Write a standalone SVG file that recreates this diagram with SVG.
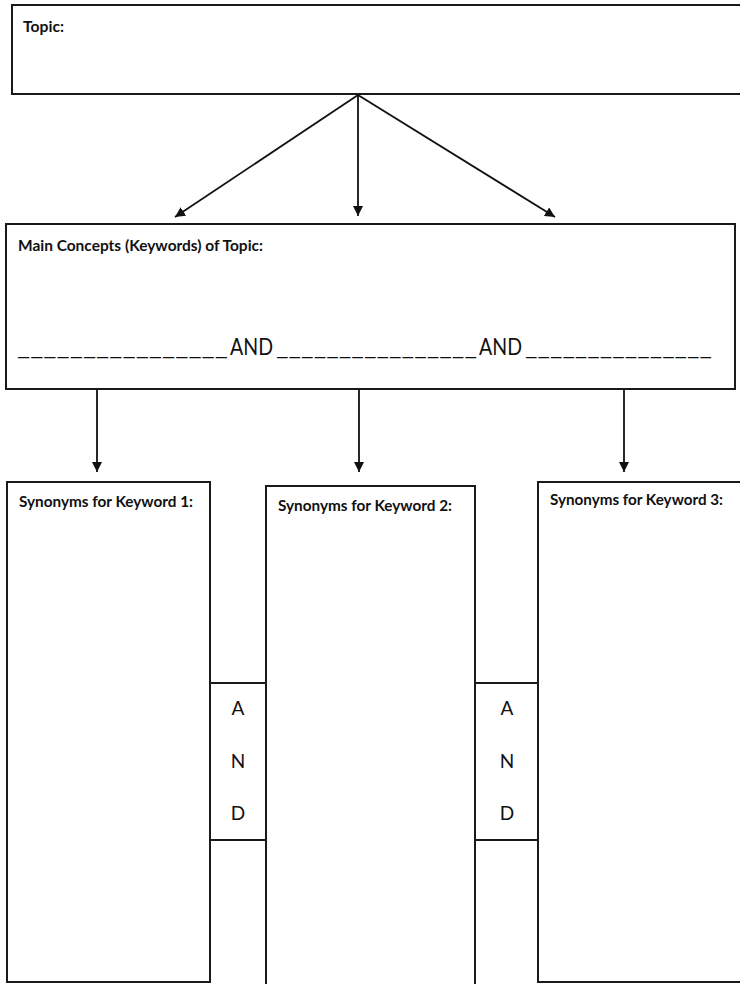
<svg xmlns="http://www.w3.org/2000/svg" width="740" height="984" viewBox="0 0 740 984">
<defs>
<marker id="ah" viewBox="0 0 10 10" refX="10" refY="5" markerWidth="10" markerHeight="10" markerUnits="userSpaceOnUse" orient="auto">
<path d="M0,0 L10,5 L0,10 z" fill="#111"/>
</marker>
</defs>
<style>
.box{fill:#fff;stroke:#1a1a1a;stroke-width:2}
.lbl{font-family:Lato,"Liberation Sans",sans-serif;font-weight:bold;font-size:15.5px;fill:#111}
.reg{font-family:Lato,"Liberation Sans",sans-serif;font-size:24px;fill:#111}
.let{font-family:Lato,"Liberation Sans",sans-serif;font-size:19px;fill:#111;text-anchor:middle}
.con{stroke:#111;stroke-width:1.8;fill:none;marker-end:url(#ah)}
</style>
<rect width="740" height="984" fill="#fff"/>
<g id="topic">
<rect class="box" x="12" y="5" width="740" height="89"/>
<text class="lbl" x="23" y="32" style="font-size:16px" textLength="41" lengthAdjust="spacingAndGlyphs">Topic:</text>
</g>
<g id="concepts">
<rect class="box" x="6" y="224" width="729" height="165"/>
<text class="lbl" x="18" y="251" textLength="245" lengthAdjust="spacingAndGlyphs">Main Concepts (Keywords) of Topic:</text>
<text class="reg" y="355"><tspan x="17" textLength="211" lengthAdjust="spacingAndGlyphs">________________</tspan><tspan x="230" textLength="43" lengthAdjust="spacingAndGlyphs">AND</tspan><tspan x="276" textLength="201" lengthAdjust="spacingAndGlyphs">________________</tspan><tspan x="479" textLength="43" lengthAdjust="spacingAndGlyphs">AND</tspan><tspan x="525" textLength="187" lengthAdjust="spacingAndGlyphs">_______________</tspan></text>
</g>
<g id="syn1">
<rect class="box" x="7" y="482" width="203" height="500"/>
<text class="lbl" x="19" y="507" textLength="174" lengthAdjust="spacingAndGlyphs">Synonyms for Keyword 1:</text>
</g>
<g id="syn2">
<rect class="box" x="266" y="486" width="209" height="520"/>
<text class="lbl" x="278" y="511" textLength="174" lengthAdjust="spacingAndGlyphs">Synonyms for Keyword 2:</text>
</g>
<g id="syn3">
<rect class="box" x="538" y="482" width="220" height="500"/>
<text class="lbl" x="550" y="505" textLength="173" lengthAdjust="spacingAndGlyphs">Synonyms for Keyword 3:</text>
</g>
<g id="and1">
<rect class="box" x="210" y="683" width="56" height="157"/>
<text class="let" x="238" y="715">A</text>
<text class="let" x="238" y="768">N</text>
<text class="let" x="238" y="820">D</text>
</g>
<g id="and2">
<rect class="box" x="475" y="683" width="63" height="157"/>
<text class="let" x="507" y="715">A</text>
<text class="let" x="507" y="768">N</text>
<text class="let" x="507" y="820">D</text>
</g>
<g id="connectors">
<line class="con" x1="358" y1="95" x2="175" y2="217"/>
<line class="con" x1="358" y1="95" x2="358" y2="216"/>
<line class="con" x1="358" y1="95" x2="555" y2="217"/>
<line class="con" x1="97" y1="389" x2="97" y2="472"/>
<line class="con" x1="359" y1="389" x2="359" y2="472"/>
<line class="con" x1="624" y1="389" x2="624" y2="472"/>
</g>
</svg>
